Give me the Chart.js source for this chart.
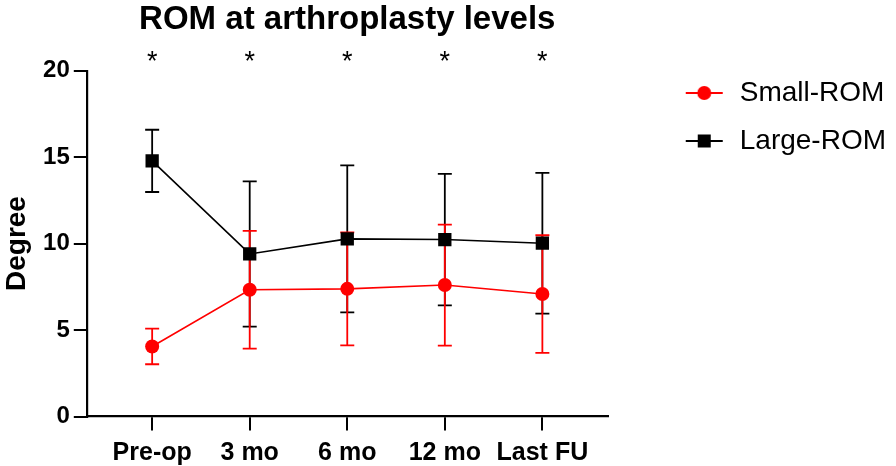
<!DOCTYPE html>
<html>
<head>
<meta charset="utf-8">
<script src="https://cdn.jsdelivr.net/npm/chart.js@4/dist/chart.umd.min.js"></script>
<style>
  html, body { margin: 0; padding: 0; background: #fff; }
  canvas { display: block; }
</style>
</head>
<body>
<canvas id="chart" width="896" height="466"></canvas>
<script>
const categories = ['Pre-op', '3 mo', '6 mo', '12 mo', 'Last FU'];
const smallMean = [4.05, 7.33, 7.38, 7.6, 7.08];
const smallSD = [1.03, 3.4, 3.27, 3.5, 3.4];
const largeMean = [14.78, 9.4, 10.27, 10.23, 10.02];
const largeSD = [1.8, 4.2, 4.25, 3.8, 4.07];
const sigMarks = ['*', '*', '*', '*', '*'];
const yTicks = [0, 5, 10, 15, 20];

const FONT = "'Liberation Sans', Arial, Helvetica, sans-serif";
const red = '#ff0000';
const black = '#000000';

// legend icon: short line with the marker on it
function legendIcon(color, shape) {
  const c = document.createElement('canvas');
  c.width = 50;
  c.height = 28;
  const g = c.getContext('2d');
  g.strokeStyle = color;
  g.fillStyle = color;
  g.lineWidth = 2;
  g.beginPath();
  g.moveTo(10, 14);
  g.lineTo(47, 14);
  g.stroke();
  if (shape === 'circle') {
    g.beginPath();
    g.arc(28.5, 14, 7, 0, Math.PI * 2);
    g.fill();
  } else {
    g.fillRect(28.5 - 6.5, 14 - 6.5, 13, 13);
  }
  return c;
}
const icons = [legendIcon(red, 'circle'), legendIcon(black, 'rect')];

const errorBars = {
  id: 'errorBars',
  beforeDatasetsDraw(chart) {
    const ctx = chart.ctx;
    const xs = chart.scales.x;
    const ys = chart.scales.y;
    const sets = [
      { mean: largeMean, sd: largeSD, color: black },
      { mean: smallMean, sd: smallSD, color: red }
    ];
    ctx.save();
    sets.forEach(s => {
      ctx.strokeStyle = s.color;
      ctx.lineWidth = 1.8;
      s.mean.forEach((m, i) => {
        const x = xs.getPixelForValue(i);
        const top = ys.getPixelForValue(m + s.sd[i]);
        const bot = ys.getPixelForValue(m - s.sd[i]);
        ctx.beginPath();
        ctx.moveTo(x, top);
        ctx.lineTo(x, bot);
        ctx.moveTo(x - 7, top);
        ctx.lineTo(x + 7, top);
        ctx.moveTo(x - 7, bot);
        ctx.lineTo(x + 7, bot);
        ctx.stroke();
      });
    });
    ctx.restore();
  },
  afterDatasetsDraw(chart) {
    const ctx = chart.ctx;
    const xs = chart.scales.x;
    ctx.save();
    ctx.fillStyle = black;
    ctx.font = '27px ' + FONT;
    ctx.textAlign = 'center';
    ctx.textBaseline = 'middle';
    sigMarks.forEach((m, i) => {
      ctx.fillText(m, xs.getPixelForValue(i), chart.chartArea.top - 8);
    });
    ctx.restore();
  }
};

new Chart(document.getElementById('chart'), {
  type: 'line',
  data: {
    datasets: [
      {
        label: 'Small-ROM',
        data: smallMean.map((y, i) => ({ x: i, y })),
        borderColor: red,
        backgroundColor: red,
        borderWidth: 1.6,
        pointStyle: 'circle',
        pointRadius: 7,
        pointBorderWidth: 0,
        tension: 0
      },
      {
        label: 'Large-ROM',
        data: largeMean.map((y, i) => ({ x: i, y })),
        borderColor: black,
        backgroundColor: black,
        borderWidth: 1.6,
        pointStyle: 'rect',
        pointRadius: 9.4,
        pointBorderWidth: 0,
        tension: 0
      }
    ]
  },
  options: {
    responsive: false,
    animation: false,
    devicePixelRatio: 1,
    layout: { padding: 0 },
    plugins: {
      title: {
        display: true,
        fullSize: false,
        text: 'ROM at arthroplasty levels',
        color: black,
        font: { family: FONT, size: 33, weight: 'bold' },
        padding: { top: 0, bottom: 31 }
      },
      legend: {
        position: 'right',
        align: 'start',
        fullSize: true,
        maxWidth: 300,
        title: { display: true, text: '', font: { size: 12 }, padding: { top: 44.6, bottom: 0 } },
        labels: {
          usePointStyle: true,
          pointStyleWidth: 50,
          padding: 20,
          color: black,
          font: { family: FONT, size: 28 },
          generateLabels: chart => chart.data.datasets.map((ds, i) => ({
            text: ds.label,
            pointStyle: icons[i],
            fillStyle: ds.borderColor,
            strokeStyle: ds.borderColor,
            lineWidth: 0,
            fontColor: black,
            hidden: false,
            datasetIndex: i
          }))
        }
      },
      tooltip: { enabled: false }
    },
    scales: {
      x: {
        type: 'linear',
        min: -0.67,
        max: 4.67,
        afterBuildTicks: scale => {
          scale.ticks = categories.map((c, i) => ({ value: i }));
        },
        afterFit: scale => { scale.height = 49.5; },
        ticks: {
          autoSkip: false,
          maxRotation: 0,
          padding: 8,
          color: black,
          font: { family: FONT, size: 25, weight: 'bold' },
          callback: v => categories[v]
        },
        grid: { drawOnChartArea: false, tickLength: 14, color: black, lineWidth: 2 },
        border: { color: black, width: 2.2 }
      },
      y: {
        min: 0,
        max: 20,
        afterBuildTicks: scale => {
          scale.ticks = yTicks.map(v => ({ value: v }));
        },
        ticks: {
          padding: 4,
          color: black,
          font: { family: FONT, size: 24, weight: 'bold' }
        },
        grid: { drawOnChartArea: false, tickLength: 13, color: black, lineWidth: 2 },
        border: { color: black, width: 2.2 },
        title: {
          display: true,
          text: 'Degree',
          color: black,
          font: { family: FONT, size: 28, weight: 'bold' },
          padding: { top: 0, bottom: 5.5 }
        }
      },
      y2: {
        type: 'linear',
        position: 'right',
        display: true,
        ticks: { display: false },
        grid: { display: false },
        border: { display: false },
        afterFit: scale => { scale.width = 48; }
      }
    }
  },
  plugins: [errorBars]
});
</script>
</body>
</html>
